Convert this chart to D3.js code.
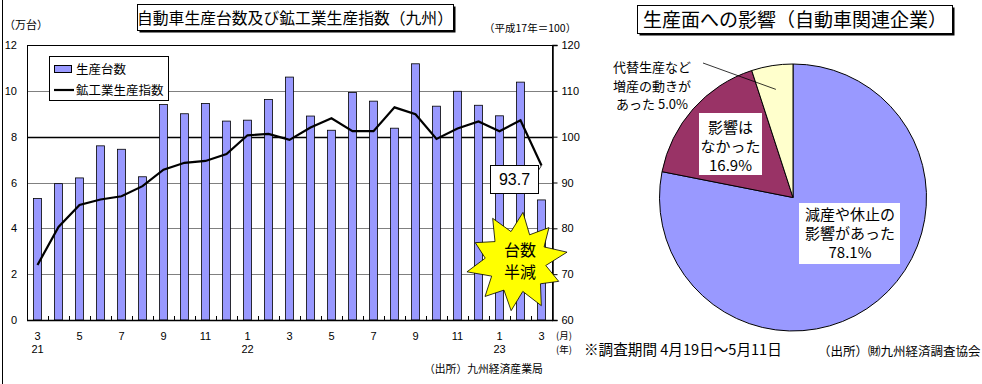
<!DOCTYPE html>
<html>
<head>
<meta charset="utf-8">
<script src="https://cdn.jsdelivr.net/npm/d3@7"></script>
<style>
  body { margin: 0; background: #fff; }
  svg text { font-family: "Liberation Sans", "Noto Sans CJK JP", sans-serif; fill: #000; }
  .jp { font-family: "Noto Sans CJK JP", sans-serif; }
</style>
</head>
<body>
<svg id="chart" width="982" height="384"></svg>
<script>
// monthly data, 平成21年3月 - 平成23年3月
var months = ["3","4","5","6","7","8","9","10","11","12","1","2","3","4","5","6","7","8","9","10","11","12","1","2","3"];
var years = ["21","","","","","","","","","","22","","","","","","","","","","","","23","",""];
var carUnits = [5.3, 5.95, 6.2, 7.6, 7.45, 6.25, 9.4, 9.0, 9.45, 8.68, 8.72, 9.62, 10.6, 8.9, 8.28, 9.93, 9.55, 8.37, 11.18, 9.33, 9.98, 9.37, 8.91, 10.38, 5.24];
var prodIndex = [72.0, 80.3, 85.1, 86.3, 87.0, 89.2, 92.8, 94.3, 94.7, 96.2, 100.3, 100.6, 99.3, 102.0, 104.0, 101.2, 101.2, 106.4, 104.9, 99.5, 101.8, 103.3, 101.2, 103.6, 93.7];
var leftTicks = [0, 2, 4, 6, 8, 10, 12];
var rightTicks = [60, 70, 80, 90, 100, 110, 120];

// pie
var pieLabels = ["減産や休止の影響があった", "影響はなかった", "代替生産など増産の動きがあった"];
var pieValues = [78.1, 16.9, 5.0];
var pieColors = ["#9999ff", "#993366", "#ffffcc"];

var svg = d3.select("#chart");

// left border line of the page
svg.append("line").attr("x1", 2.5).attr("x2", 2.5).attr("y1", 0).attr("y2", 384)
  .attr("stroke", "#000").attr("stroke-width", 1);

// ---------- left chart ----------
var x = d3.scaleBand().domain(d3.range(months.length)).range([27, 552])
  .paddingInner(0.62).paddingOuter(0.31);
var y = d3.scaleLinear().domain([0, 12]).range([320, 45]);
var y2 = d3.scaleLinear().domain([60, 120]).range([320, 45]);

// gridlines
svg.append("g").selectAll("line").data(leftTicks.filter(function (d) { return d > 0 && d < 12; }))
  .enter().append("line")
  .attr("x1", 27).attr("x2", 552)
  .attr("y1", function (d) { return Math.round(y(d)) + 0.5; })
  .attr("y2", function (d) { return Math.round(y(d)) + 0.5; })
  .attr("stroke", function (d) { return d == 8 ? "#000" : "#808080"; })
  .attr("stroke-width", function (d) { return d == 8 ? 1.5 : 1; });

// bars
svg.append("g").selectAll("rect").data(carUnits).enter().append("rect")
  .attr("x", function (d, i) { return x(i); })
  .attr("y", function (d) { return y(d); })
  .attr("width", x.bandwidth())
  .attr("height", function (d) { return y(0) - y(d); })
  .attr("fill", "#9999ff")
  .attr("stroke", "#000").attr("stroke-width", 0.8);

// plot frame
svg.append("rect").attr("x", 27.5).attr("y", 45.5).attr("width", 525).attr("height", 275)
  .attr("fill", "none").attr("stroke", "#000").attr("stroke-width", 1);

// index line
var valueline = d3.line()
  .x(function (d, i) { return x(i) + x.bandwidth() / 2; })
  .y(function (d) { return y2(d); });
svg.append("path").datum(prodIndex)
  .attr("d", valueline)
  .attr("fill", "none").attr("stroke", "#000").attr("stroke-width", 2.2)
  .attr("stroke-linejoin", "miter");

// left axis
var leftAxis = svg.append("g").attr("transform", "translate(27,0)")
  .call(d3.axisLeft(y).tickValues(leftTicks).tickSize(0).tickPadding(10));
leftAxis.select(".domain").remove();
leftAxis.selectAll("text").attr("font-size", 11).attr("font-family", "Liberation Sans");

// right axis
var rightAxis = svg.append("g").attr("transform", "translate(552.5,0)")
  .call(d3.axisRight(y2).tickValues(rightTicks).tickSize(5).tickPadding(4));
rightAxis.select(".domain").attr("stroke-width", 1.5);
rightAxis.selectAll("text").attr("font-size", 11).attr("font-family", "Liberation Sans");

// bottom ticks (inside) at month boundaries
var step = x.step();
svg.append("g").selectAll("line").data(d3.range(1, months.length)).enter().append("line")
  .attr("x1", function (i) { return Math.round(x(i) - step * 0.31) + 0.5; })
  .attr("x2", function (i) { return Math.round(x(i) - step * 0.31) + 0.5; })
  .attr("y1", 320).attr("y2", 316)
  .attr("stroke", "#000");
svg.append("line").attr("x1", 27).attr("x2", 553).attr("y1", 320.5).attr("y2", 320.5)
  .attr("stroke", "#000").attr("stroke-width", 1.5);

// month / year labels
svg.append("g").selectAll("text").data(months).enter()
  .filter(function (d, i) { return i % 2 == 0; })
  .append("text")
  .attr("x", function (d, i) { return x(i * 2) + x.bandwidth() / 2; })
  .attr("y", 340).attr("text-anchor", "middle").attr("font-size", 11)
  .text(function (d) { return d; });
svg.append("g").selectAll("text").data(years).enter()
  .filter(function (d) { return d != ""; })
  .append("text")
  .attr("x", function (d) { return x(years.indexOf(d)) + x.bandwidth() / 2; })
  .attr("y", 353).attr("text-anchor", "middle").attr("font-size", 11)
  .text(function (d) { return d; });
svg.append("text").attr("class", "jp").attr("x", 556).attr("y", 339).attr("font-size", 9.5)
  .text("(月)")
  .append("tspan").attr("x", 556).attr("dy", 14).text("(年)");

// unit labels
svg.append("text").attr("class", "jp").attr("x", 4).attr("y", 29).attr("font-size", 11).text("（万台）");
svg.append("text").attr("class", "jp").attr("x", 484).attr("y", 32).attr("font-size", 10.5).text("（平成17年＝100）");

// title box
svg.append("rect").attr("x", 139.5).attr("y", 6.5).attr("width", 316).attr("height", 26).attr("fill", "#000");
svg.append("rect").attr("x", 137.5).attr("y", 4.5).attr("width", 316).attr("height", 26)
  .attr("fill", "#fff").attr("stroke", "#000");
svg.append("text").attr("class", "jp").attr("x", 295).attr("y", 23.5).attr("text-anchor", "middle")
  .attr("font-size", 15.8).text("自動車生産台数及び鉱工業生産指数（九州）");

// legend
var legend = svg.append("g");
legend.append("rect").attr("x", 49.5).attr("y", 56.5).attr("width", 119).attr("height", 44)
  .attr("fill", "#fff").attr("stroke", "#000");
legend.append("rect").attr("x", 54.5).attr("y", 65.5).attr("width", 17).attr("height", 7)
  .attr("fill", "#9999ff").attr("stroke", "#000");
legend.append("text").attr("class", "jp").attr("x", 76).attr("y", 74).attr("font-size", 12.5).text("生産台数");
legend.append("line").attr("x1", 54).attr("x2", 74).attr("y1", 90).attr("y2", 90)
  .attr("stroke", "#000").attr("stroke-width", 2.2);
legend.append("text").attr("class", "jp").attr("x", 76).attr("y", 95).attr("font-size", 12.5).text("鉱工業生産指数");

// starburst
var burstR = [50, 30, 47, 31, 51, 29, 46, 32, 50, 30, 49, 31, 47, 29, 51, 32, 46, 30, 50, 31];
var burst = d3.lineRadial()
  .angle(function (d, i) { return i * 2 * Math.PI / burstR.length + 0.12; })
  .radius(function (d) { return d; })
  .curve(d3.curveLinearClosed);
svg.append("path").datum(burstR)
  .attr("transform", "translate(517,262)")
  .attr("d", burst)
  .attr("fill", "#ffff00").attr("stroke", "#000").attr("stroke-width", 0.8);
svg.append("text").attr("class", "jp").attr("x", 520).attr("y", 256).attr("text-anchor", "middle")
  .attr("font-size", 16).text("台数")
  .append("tspan").attr("x", 520).attr("dy", 22).text("半減");

// last value callout
var lastI = prodIndex.length - 1;
var lx = x(lastI) + x.bandwidth() / 2, ly = y2(prodIndex[lastI]);
svg.append("line").attr("x1", 538).attr("y1", 171).attr("x2", lx).attr("y2", ly)
  .attr("stroke", "#000").attr("stroke-width", 0.8);
svg.append("rect").attr("x", 490.5).attr("y", 165.5).attr("width", 48).attr("height", 28)
  .attr("fill", "#fff").attr("stroke", "#000");
svg.append("text").attr("x", 514.5).attr("y", 185).attr("text-anchor", "middle")
  .attr("font-size", 16).text(prodIndex[lastI].toFixed(1));

// source
svg.append("text").attr("class", "jp").attr("x", 424).attr("y", 373).attr("font-size", 10.8)
  .text("（出所）九州経済産業局");

// ---------- pie chart ----------
var cx = 793, cy = 197.5, r = 133.5;
var pie = d3.pie().sort(null).value(function (d) { return d; });
var arc = d3.arc().innerRadius(0).outerRadius(r);
var arcs = pie(pieValues);
var pg = svg.append("g").attr("transform", "translate(" + cx + "," + cy + ")");
pg.selectAll("path").data(arcs).enter().append("path")
  .attr("d", arc)
  .attr("fill", function (d, i) { return pieColors[i]; })
  .attr("stroke", "#000").attr("stroke-width", 1);

// pie title
svg.append("rect").attr("x", 639.5).attr("y", 7.5).attr("width", 315).attr("height", 28).attr("fill", "#000");
svg.append("rect").attr("x", 637.5).attr("y", 5.5).attr("width", 315).attr("height", 28)
  .attr("fill", "#fff").attr("stroke", "#000");
svg.append("text").attr("class", "jp").attr("x", 795).attr("y", 26.5).attr("text-anchor", "middle")
  .attr("font-size", 19).text("生産面への影響（自動車関連企業）");

// pie label boxes
function boxLabel(x0, y0, w, h, lines, cxText, y0Text, dy) {
  svg.append("rect").attr("x", x0).attr("y", y0).attr("width", w).attr("height", h).attr("fill", "#fff");
  var t = svg.append("text").attr("class", "jp").attr("text-anchor", "middle").attr("font-size", 15);
  lines.forEach(function (s, k) {
    t.append("tspan").attr("x", cxText).attr(k == 0 ? "y" : "dy", k == 0 ? y0Text : dy).text(s);
  });
}
boxLabel(699, 113, 63, 62, ["影響は", "なかった", pieValues[1].toFixed(1) + "%"], 730.5, 133, 19);
boxLabel(799, 203, 101, 61, ["減産や休止の", "影響があった", pieValues[0].toFixed(1) + "%"], 850, 220, 19);

// small slice label with leader
var mid = (arcs[2].startAngle + arcs[2].endAngle) / 2;
svg.append("line").attr("x1", 703).attr("y1", 63)
  .attr("x2", cx + Math.sin(mid) * r * 0.82).attr("y2", cy - Math.cos(mid) * r * 0.82)
  .attr("stroke", "#000").attr("stroke-width", 0.8);
var smallLines = ["代替生産など", "増産の動きが", "あった  " + pieValues[2].toFixed(1) + "%"];
var st = svg.append("text").attr("class", "jp").attr("text-anchor", "middle").attr("font-size", 13);
smallLines.forEach(function (s, k) {
  st.append("tspan").attr("x", 652).attr(k == 0 ? "y" : "dy", k == 0 ? 72 : 18.5).text(s);
});

// notes
svg.append("text").attr("class", "jp").attr("x", 584).attr("y", 355).attr("font-size", 14.6)
  .text("※調査期間 4月19日～5月11日");
svg.append("text").attr("class", "jp").attr("x", 818).attr("y", 356).attr("font-size", 12.5)
  .text("（出所）㈶九州経済調査協会");
</script>
</body>
</html>
